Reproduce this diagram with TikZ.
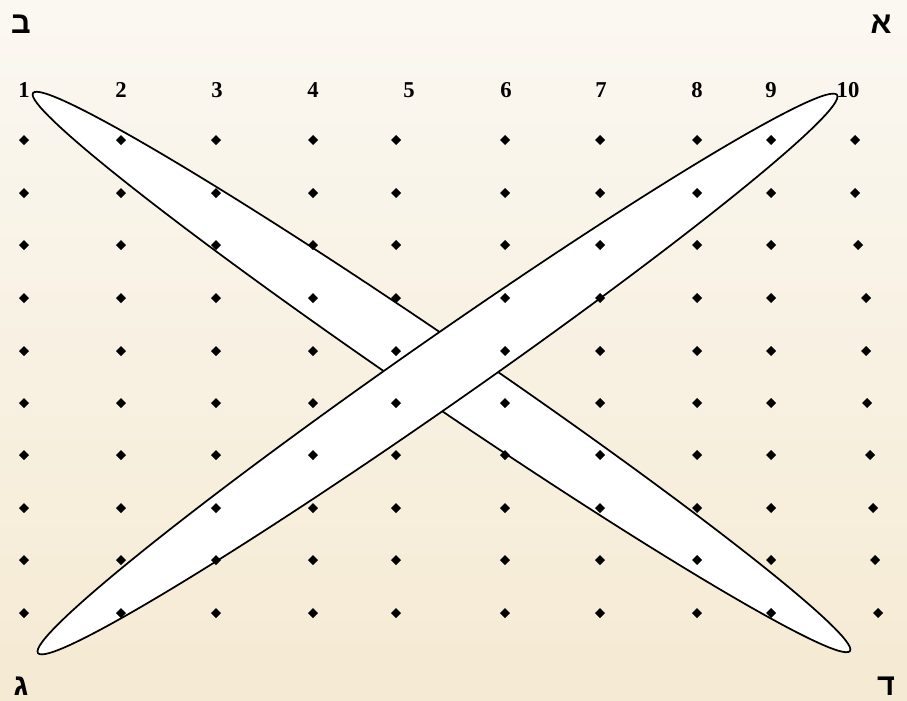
\documentclass[tikz,border=0pt]{standalone}
\usepackage{fontspec}
\setmainfont{Liberation Serif}
\newfontfamily\hebfont[Script=Hebrew]{Liberation Sans}
\TeXXeTstate=1
\definecolor{parchtop}{HTML}{FBF8F2}
\definecolor{parchbot}{HTML}{F5EAD3}
\begin{document}
\begin{tikzpicture}[x=0.75pt,y=-0.75pt,
  numlbl/.style={font=\bfseries\fontsize{17}{19}\selectfont, inner sep=0pt},
  heblbl/.style={font=\hebfont\bfseries\fontsize{23}{25}\selectfont, inner sep=0pt},
  band/.style={draw=black, fill=white, line width=1.3pt},
  dotmark/.style={fill=black}]
\useasboundingbox (0,0) rectangle (907,700);
\shade[top color=parchtop, bottom color=parchbot] (0,0) rectangle (907,700);

% corner letters
\node[heblbl] (alef) at (881,24) {\beginR א\endR};
\node[heblbl] (bet) at (21,24) {\beginR ב\endR};
\node[heblbl] (gimel) at (21,686) {\beginR ג\endR};
\node[heblbl] (dalet) at (886,686) {\beginR ד\endR};

% column numbers
\foreach \i/\xx in {1/24,2/121,3/217,4/313,5/409,6/506,7/601,8/697,9/771,10/848}{
  \node[numlbl] (n\i) at (\xx,90) {\i};
}

% bands
\draw[band, shift={(441.5,372)}, rotate=-34.33] (0,0) ellipse [x radius=371pt, y radius=24pt];
\draw[band, shift={(437.5,374)}, rotate=34.93] (0,0) ellipse [x radius=365.5pt, y radius=25pt];

% dots
\foreach \yy/\lx in {140/855,193/855,245/858,298/866,351/866,403/867,455/870,508/873,560/875,613/878}{
  \foreach \xx in {24,121,216,313,396,505,600,697,771,\lx}{
    \fill[dotmark] (\xx,\yy) ++(-5,0) -- ++(5,-5) -- ++(5,5) -- ++(-5,5) -- cycle;
  }
}
\end{tikzpicture}
\end{document}
